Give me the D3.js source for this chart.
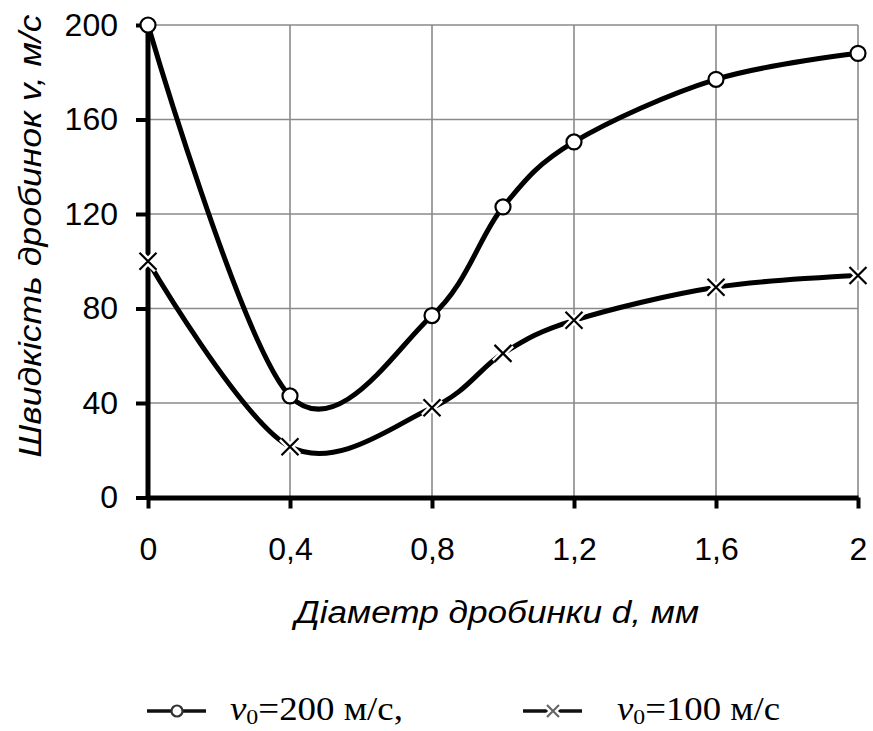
<!DOCTYPE html>
<html>
<head>
<meta charset="utf-8">
<script src="https://cdn.jsdelivr.net/npm/d3@7"></script>
<style>
  body { margin: 0; background: #fff; }
  svg { display: block; }
</style>
</head>
<body>
<svg id="chart" width="873" height="731"></svg>
<script>
// data
const diameters = [0, 0.4, 0.8, 1.0, 1.2, 1.6, 2];
const speedV200 = [200, 43, 77, 123, 150.5, 177, 188];
const speedV100 = [100, 21.5, 38, 61, 75, 89, 94];
const xTicks = [0, 0.4, 0.8, 1.2, 1.6, 2];
const yTicks = [0, 40, 80, 120, 160, 200];
const seriesNames = ["200", "100"];
const seriesMarkers = ["circle", "cross"];

let svg = d3.select("#chart"),
    margin = {top: 25, right: 15, bottom: 233.5, left: 148},
    width = +svg.attr("width") - margin.left - margin.right,
    height = +svg.attr("height") - margin.top - margin.bottom;

let sans = "'Liberation Sans', Arial, sans-serif",
    serif = "'Liberation Serif', 'Times New Roman', serif";

let x = d3.scaleLinear().domain([0, 2]).range([0, width]);
let y = d3.scaleLinear().domain([0, 200]).range([height, 0]);

let g = svg.append("g")
    .attr("transform", "translate(" + margin.left + "," + margin.top + ")");

// grid
g.append("g").selectAll("line")
    .data(yTicks.filter(d => d > 0))
    .join("line")
    .attr("x1", 0).attr("x2", width)
    .attr("y1", d => y(d)).attr("y2", d => y(d))
    .attr("stroke", "#8a8a8a").attr("stroke-width", 1.6);

g.append("g").selectAll("line")
    .data(xTicks.filter(d => d > 0))
    .join("line")
    .attr("x1", d => x(d)).attr("x2", d => x(d))
    .attr("y1", 0).attr("y2", height)
    .attr("stroke", "#8a8a8a").attr("stroke-width", 1.6);

// axes
let fmt = d => String(d).replace(".", ",");

let xAxis = g.append("g")
    .attr("transform", "translate(0," + height + ")")
    .call(d3.axisBottom(x).tickValues(xTicks).tickFormat(fmt)
        .tickSizeInner(11).tickSizeOuter(0).tickPadding(29));

let yAxis = g.append("g")
    .call(d3.axisLeft(y).tickValues(yTicks).tickFormat(fmt)
        .tickSizeInner(12).tickSizeOuter(0).tickPadding(18));

[xAxis, yAxis].forEach(ax => {
    ax.select(".domain").attr("stroke", "#000").attr("stroke-width", 5);
    ax.selectAll(".tick line").attr("stroke", "#000").attr("stroke-width", 4);
    ax.selectAll(".tick text")
        .attr("fill", "#000")
        .style("font-family", sans)
        .style("font-size", "32px");
});

// extend the thick axes to meet at the corner
yAxis.select(".domain").attr("d", "M0," + (height + 2.5) + "V0");

// axis titles
svg.append("text")
    .attr("transform", "translate(41,236) rotate(-90)")
    .attr("text-anchor", "middle")
    .attr("textLength", 443)
    .attr("lengthAdjust", "spacingAndGlyphs")
    .style("font-family", sans)
    .style("font-size", "32px")
    .style("font-style", "italic")
    .text("Швидкість дробинок v, м/с");

svg.append("text")
    .attr("x", 497)
    .attr("y", 623)
    .attr("text-anchor", "middle")
    .attr("textLength", 404)
    .attr("lengthAdjust", "spacingAndGlyphs")
    .style("font-family", sans)
    .style("font-size", "31px")
    .style("font-style", "italic")
    .text("Діаметр дробинки d, мм");

// lines
let series = [speedV200, speedV100];
let line = d3.line()
    .x((d, i) => x(diameters[i]))
    .y(d => y(d))
    .curve(d3.curveCardinal.tension(0));

series.forEach((vals, i) => {
    g.append("path")
        .datum(vals)
        .attr("fill", "none")
        .attr("stroke", "#000")
        .attr("stroke-width", 5)
        .attr("stroke-linejoin", "round")
        .attr("d", line);
});

function drawMarker(sel, kind, cx, cy, s, color) {
    if (kind === "circle") {
        sel.append("circle")
            .attr("cx", cx).attr("cy", cy).attr("r", s)
            .attr("fill", "#fff").attr("stroke", color).attr("stroke-width", 2.2);
    } else {
        let p = "M" + (cx - s) + "," + (cy - s) + "L" + (cx + s) + "," + (cy + s) +
                "M" + (cx - s) + "," + (cy + s) + "L" + (cx + s) + "," + (cy - s);
        sel.append("path").attr("d", p)
            .attr("stroke", "#fff").attr("stroke-width", 7).attr("fill", "none");
        sel.append("path").attr("d", p)
            .attr("stroke", color).attr("stroke-width", 2.2).attr("fill", "none");
    }
}

series.forEach((vals, i) => {
    let mg = g.append("g");
    vals.forEach((v, j) => {
        drawMarker(mg, seriesMarkers[i], x(diameters[j]), y(v),
            seriesMarkers[i] === "circle" ? 7.5 : 8.5, "#000");
    });
});

// legend
let legendX = [147, 523];
let legendTextX = [230, 617];
let legendTextLen = [173, 163];
let legendY = 711;

seriesNames.forEach((name, i) => {
    let lg = svg.append("g");
    lg.append("line")
        .attr("x1", legendX[i]).attr("x2", legendX[i] + 59)
        .attr("y1", legendY).attr("y2", legendY)
        .attr("stroke", "#111").attr("stroke-width", 3.5);
    drawMarker(lg, seriesMarkers[i], legendX[i] + 30, legendY,
        seriesMarkers[i] === "circle" ? 5.5 : 6, i === 0 ? "#333" : "#666");

    let t = lg.append("text")
        .attr("x", legendTextX[i])
        .attr("y", 720)
        .attr("textLength", legendTextLen[i])
        .attr("lengthAdjust", "spacingAndGlyphs")
        .style("font-family", serif)
        .style("font-size", "34px");
    t.append("tspan").style("font-style", "italic").text("v");
    t.append("tspan").attr("dy", 4).style("font-size", "22px").text("0");
    t.append("tspan").attr("dy", -4).text("=" + name + " м/с" + (i === 0 ? "," : ""));
});
</script>
</body>
</html>
